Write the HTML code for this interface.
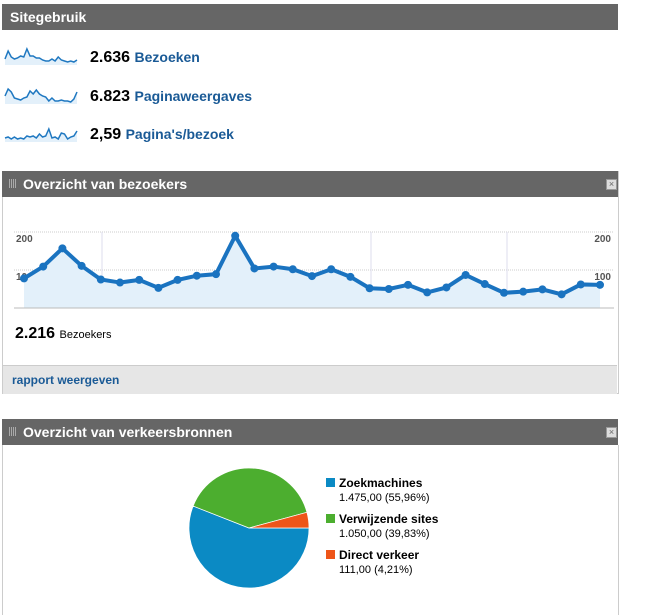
<!DOCTYPE html>
<html><head><meta charset="utf-8"><style>
body{margin:0;width:672px;height:608px;background:#fff;font-family:"Liberation Sans",Arial,sans-serif;position:relative;overflow:hidden}
.hdr{position:absolute;left:2px;width:616px;height:26px;background:#666;color:#fff;font-weight:bold;font-size:14px;line-height:26px}
.hdr .grip{position:absolute;left:7px;top:8px;width:8px;height:9px;background:repeating-linear-gradient(90deg,#aaa 0 1px,transparent 1px 2px)}
.hdr .cls{position:absolute;right:1px;top:8px;width:9px;height:9px;border:1px solid #999;background:#ddd;color:#666;font-size:9px;line-height:9px;text-align:center;font-weight:normal}
.abs{position:absolute}
.num{font-weight:bold;font-size:16px;color:#000}
.lnk{color:#1a5a96;font-weight:bold;font-size:14px}
</style></head><body>
<div class="hdr" style="top:4px;padding-left:8px;width:608px">Sitegebruik</div>
<svg class="abs" style="left:0;top:40px" width="90" height="115" id="spark"></svg>
<div class="abs" style="left:90px;top:49px"><span class="num">2.636</span> <span class="lnk">Bezoeken</span></div>
<div class="abs" style="left:90px;top:88px"><span class="num">6.823</span> <span class="lnk">Paginaweergaves</span></div>
<div class="abs" style="left:90px;top:126px"><span class="num">2,59</span> <span class="lnk">Pagina's/bezoek</span></div>

<div class="abs" style="left:2px;top:171px;width:615px;height:222px;border:1px solid #ccc;border-top:none"></div>
<div class="hdr" style="top:171px"><span class="grip"></span><span style="margin-left:21px">Overzicht van bezoekers</span><span class="cls">×</span></div>
<svg class="abs" style="left:0;top:200px" width="620" height="115" id="chart"></svg>
<div class="abs" style="left:15px;top:325px"><span class="num">2.216</span> <span style="font-size:11px">Bezoekers</span></div>
<div class="abs" style="left:3px;top:365px;width:614px;height:28px;background:#e6e6e6;border-top:1px solid #ccc"><span class="abs" style="left:9px;top:7px;color:#1a5a96;font-size:12px;font-weight:bold">rapport weergeven</span></div>

<div class="hdr" style="top:419px"><span class="grip"></span><span style="margin-left:21px">Overzicht van verkeersbronnen</span><span class="cls">×</span></div>
<div class="abs" style="left:2px;top:445px;width:615px;height:170px;border-left:1px solid #ccc;border-right:1px solid #ccc"></div>
<svg class="abs" style="left:180px;top:460px" width="140" height="140" id="pie"></svg>
<div class="abs" style="left:326px;top:476px;font-size:12px;line-height:14px" id="legend"></div>

<script>
const NS="http://www.w3.org/2000/svg";
function mk(p,t,a){const e=document.createElementNS(NS,t);for(const k in a)e.setAttribute(k,a[k]);p.appendChild(e);return e;}

// sparklines
const sparkVisits=[6,14,8,6,7,9,8,16,9,9,7,7,5,4,4,6,4,8,5,4,3,4,3,5];
const sparkPageviews=[8,15,12,6,5,4,6,7,13,10,14,10,8,7,3,6,3,3,4,3,3,2,5,12];
const sparkPerVisit=[4,5,3,5,3,4,3,6,5,6,4,8,5,6,13,4,5,3,9,8,3,5,6,11];
const sp=document.getElementById('spark');
[[sparkVisits,25],[sparkPageviews,64],[sparkPerVisit,102]].forEach(([d,base])=>{
  const pts=d.map((v,i)=>[5+i*72/(d.length-1),base-v]);
  const a=mk(sp,'path',{d:'M'+pts.map(p=>p.join(',')).join('L')+`L77,${base}L5,${base}Z`,fill:'#e3f0fa'});
  
  
  const l=mk(sp,'polyline',{points:pts.map(p=>p.join(',')).join(' '),fill:'none',stroke:'#1f78c1','stroke-width':1.5});
  
  
});

// visitors line chart
const visitors=[78,109,157,111,75,67,74,53,74,85,89,190,104,109,102,84,102,82,52,50,61,41,54,87,63,40,43,49,36,62,61];
const yTicks=[100,200];
const c=document.getElementById('chart');
const X0=24,X1=600,BASE=108,PX=0.38;
const xs=i=>X0+i*(X1-X0)/(visitors.length-1);
const ys=v=>BASE-v*PX;
yTicks.forEach(t=>{
  const g=mk(c,'line',{x1:14,x2:614,y1:ys(t),y2:ys(t),stroke:'#ccc','stroke-dasharray':'1,1'});
  
  
  [[16,'start'],[611,'end']].forEach(([x,an])=>{
    const tx=mk(c,'text',{x:x,y:ys(t)+10,'font-size':10,fill:'#555','text-anchor':an,'font-weight':'bold'});
    tx.textContent=t;
    
    
  });
});
[102,237,371,507].forEach(x=>{const v=mk(c,'line',{x1:x,x2:x,y1:ys(200),y2:BASE,stroke:'#dde'});});
const pts=visitors.map((v,i)=>[xs(i),ys(v)]);
const area=mk(c,'path',{d:'M'+pts.map(p=>p.join(',')).join('L')+`L${X1},${BASE}L${X0},${BASE}Z`,fill:'#e3f0fa'});


const bl=mk(c,'line',{x1:14,x2:614,y1:BASE,y2:BASE,stroke:'#bbb'});


const line=mk(c,'polyline',{points:pts.map(p=>p.join(',')).join(' '),fill:'none',stroke:'#1a73c0','stroke-width':4});


pts.forEach(p=>{const d=mk(c,'circle',{cx:p[0],cy:p[1],r:4,fill:'#1a73c0'});});

// pie
const pieLabels=['Zoekmachines','Verwijzende sites','Direct verkeer'];
const pieValues=[1475,1050,111];
const pieText=['1.475,00 (55,96%)','1.050,00 (39,83%)','111,00 (4,21%)'];
const pieColors=['#0b8ac4','#4cae2f','#ee5519'];
const pie=document.getElementById('pie');
const cx=69,cy=68,r=60,tot=pieValues.reduce((a,b)=>a+b,0);
let ang=0;
pieValues.forEach((v,i)=>{
  const a2=ang+v/tot*2*Math.PI;
  const large=(a2-ang)>Math.PI?1:0;
  const d=`M${cx},${cy}L${cx+r*Math.cos(ang)},${cy+r*Math.sin(ang)}A${r},${r} 0 ${large} 1 ${cx+r*Math.cos(a2)},${cy+r*Math.sin(a2)}Z`;
  const s=mk(pie,'path',{d:d,fill:pieColors[i],stroke:'#fff','stroke-width':0.7});
  
  
  ang=a2;
});
const lg=document.getElementById('legend');
pieLabels.forEach((l,i)=>{
  const e=document.createElement('div');
  e.style.marginBottom='7px';
  e.innerHTML=`<span style="display:inline-block;width:9px;height:9px;background:${pieColors[i]};margin-right:4px"></span><b>${l}</b><br><span style="margin-left:13px;font-size:11px">${pieText[i]}</span>`;
  
  
  lg.appendChild(e);
});
</script>
</body></html>
